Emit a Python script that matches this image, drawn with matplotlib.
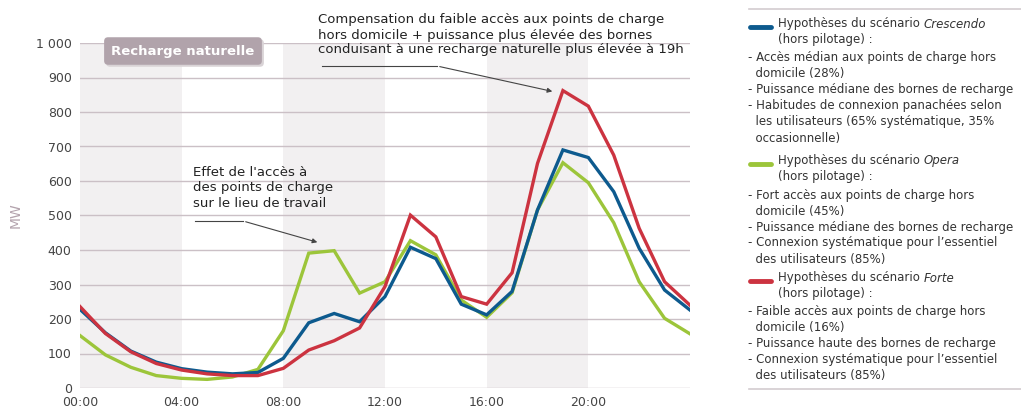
import numpy as np
import matplotlib
matplotlib.use("Agg")
import matplotlib.pyplot as plt

# heures 0..24
hours = list(range(25))
crescendo = [228, 160, 107, 75, 56, 46, 41, 45, 86, 189, 216, 192, 265, 408, 375, 243, 212, 280, 516, 690, 668, 569, 405, 284, 226]
opera = [152, 96, 60, 36, 28, 25, 32, 54, 166, 391, 398, 275, 308, 427, 386, 255, 205, 276, 516, 653, 595, 479, 308, 202, 157]
forte = [236, 158, 105, 71, 52, 41, 36, 36, 57, 110, 137, 174, 294, 501, 438, 265, 243, 334, 651, 862, 817, 675, 463, 308, 240]

xticks = [0, 4, 8, 12, 16, 20]
xticklabels = ["00:00", "04:00", "08:00", "12:00", "16:00", "20:00"]
yticks = list(range(0, 1001, 100))
yticklabels = ["0", "100", "200", "300", "400", "500", "600", "700", "800", "900", "1 000"]
bands = [(0, 4), (8, 12), (16, 20)]

legend_blocks = [
    ("Crescendo", [
        "- Accès médian aux points de charge hors",
        "  domicile (28%)",
        "- Puissance médiane des bornes de recharge",
        "- Habitudes de connexion panachées selon",
        "  les utilisateurs (65% systématique, 35%",
        "  occasionnelle)",
    ]),
    ("Opera", [
        "- Fort accès aux points de charge hors",
        "  domicile (45%)",
        "- Puissance médiane des bornes de recharge",
        "- Connexion systématique pour l\u2019essentiel",
        "  des utilisateurs (85%)",
    ]),
    ("Forte", [
        "- Faible accès aux points de charge hors",
        "  domicile (16%)",
        "- Puissance haute des bornes de recharge",
        "- Connexion systématique pour l\u2019essentiel",
        "  des utilisateurs (85%)",
    ]),
]

BLUE = "#0d5a8e"
GREEN = "#9cc53a"
RED = "#cc3340"
colors = [BLUE, GREEN, RED]
W, H = 1021, 412


def fx(px):
    return px / W


def fy(py):
    return 1 - py / H


plt.rcParams['font.family'] = ['DejaVu Sans']
fig = plt.figure(figsize=(W / 100, H / 100), dpi=100)
ax = fig.add_axes([fx(80), fy(388), (690 - 80) / W, (388 - 43) / H])

for a, b in bands:
    ax.axvspan(a, b, color="#f2f0f1", lw=0, zorder=0)
for y in yticks:
    ax.axhline(y, color="#cbc0c6", lw=1.0, zorder=1)

ax.plot(hours, crescendo, color=BLUE, lw=2.4, zorder=3, solid_joinstyle="miter")
ax.plot(hours, opera, color=GREEN, lw=2.4, zorder=2, solid_joinstyle="miter")
ax.plot(hours, forte, color=RED, lw=2.4, zorder=4, solid_joinstyle="miter")

ax.set_xlim(0, 24)
ax.set_ylim(0, 1000)
ax.set_xticks(xticks)
ax.set_xticklabels(xticklabels)
ax.set_yticks(yticks)
ax.set_yticklabels(yticklabels)
ax.tick_params(length=0, labelsize=9, colors="#444444", pad=6)
for s in ax.spines.values():
    s.set_visible(False)

fig.text(fx(16), fy(215), "MW", rotation=90, ha="center", va="center", color="#b3a3ad", fontsize=10)

# encadre "Recharge naturelle" (avec petite ombre)
box = dict(boxstyle="round,pad=0.55,rounding_size=0.3", ec="none")
fig.text(fx(185), fy(53), "Recharge naturelle", ha="center", va="center", color="none",
         fontsize=9.5, fontweight="bold", bbox=dict(box, fc="#d9d3d6"))
fig.text(fx(183), fy(51), "Recharge naturelle", ha="center", va="center", color="white",
         fontsize=9.5, fontweight="bold", bbox=dict(box, fc="#b1a3ab"))

# annotations
fig.text(fx(318), fy(35), "Compensation du faible accès aux points de charge\n"
         "hors domicile + puissance plus élevée des bornes\n"
         "conduisant à une recharge naturelle plus élevée à 19h",
         ha="left", va="center", fontsize=9.5, color="#222222", linespacing=1.2)
fig.text(fx(193), fy(188), "Effet de l'accès à\ndes points de charge\nsur le lieu de travail",
         ha="left", va="center", fontsize=9.5, color="#222222", linespacing=1.25)

for pts in ([(322, 66), (437, 66), (555, 92)], [(195, 221), (243, 221), (320, 243)]):
    (x0, y0), (x1, y1), (x2, y2) = pts
    fig.add_artist(plt.Line2D([fx(x0), fx(x1)], [fy(y0), fy(y1)], color="#444444", lw=0.8))
    fig.add_artist(matplotlib.patches.FancyArrowPatch((fx(x1), fy(y1)), (fx(x2), fy(y2)),
                                                      transform=fig.transFigure, arrowstyle="-|>",
                                                      mutation_scale=7, color="#444444", lw=0.8))

# legende
fig.add_artist(plt.Line2D([fx(749), 1], [fy(9), fy(9)], color="#d3ccd0", lw=1.2))
fig.add_artist(plt.Line2D([fx(749), 1], [fy(389), fy(389)], color="#d3ccd0", lw=1.2))
header_y = [24, 161, 278]
step = 16
for (name, lines), col, y0 in zip(legend_blocks, colors, header_y):
    fig.add_artist(plt.Line2D([fx(750), fx(771)], [fy(y0 + 3), fy(y0 + 3)], color=col, lw=3.5,
                              solid_capstyle="round"))
    t = fig.text(fx(778), fy(y0), "Hypothèses du scénario ", ha="left", va="center",
                 fontsize=8.5, color="#333333")
    fig.canvas.draw()
    bb = t.get_window_extent()
    fig.text(bb.x1 / W, fy(y0), name, ha="left", va="center", fontsize=8.5, color="#333333",
             style="italic")
    fig.text(fx(778), fy(y0 + step), "(hors pilotage) :", ha="left", va="center",
             fontsize=8.5, color="#333333")
    for i, ln in enumerate(lines):
        fig.text(fx(748), fy(y0 + step * (i + 2) + 2), ln, ha="left", va="center",
                 fontsize=8.5, color="#333333")

fig.savefig("out.png", dpi=100)
